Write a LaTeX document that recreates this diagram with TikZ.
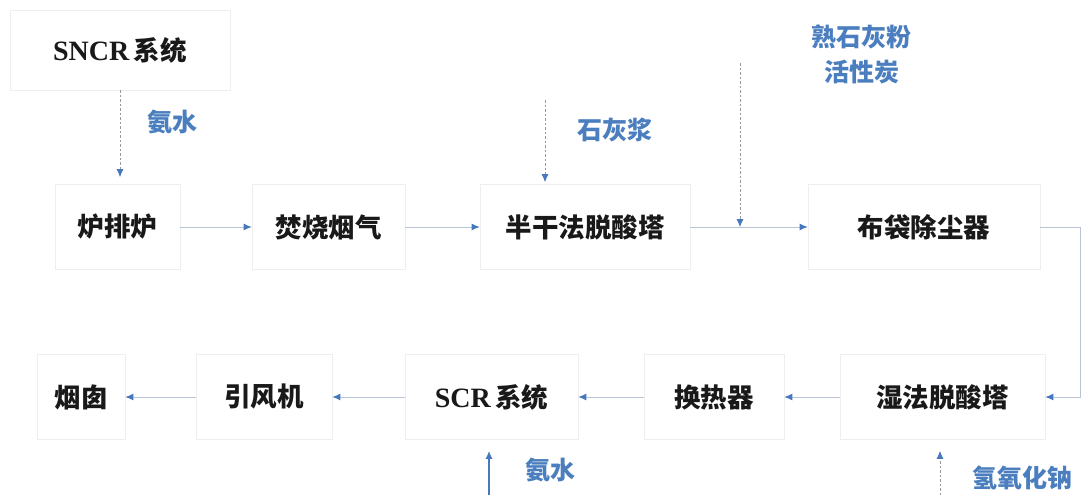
\documentclass[tikz,border=0pt]{standalone}
\usepackage{fontspec}
\setmainfont{Liberation Serif}
\newfontfamily\cjk{Noto Sans CJK SC}
\usetikzlibrary{arrows.meta}
\definecolor{lblblue}{RGB}{74,126,190}
\definecolor{arrblue}{RGB}{70,120,190}
\definecolor{linegray}{RGB}{185,196,214}
\definecolor{boxgray}{RGB}{238,238,238}
\begin{document}
\begin{tikzpicture}[x=1pt,y=-1pt,
  box/.style={draw=boxgray, line width=0.7pt, minimum height=85pt, inner sep=0pt,
    font=\cjk\bfseries\fontsize{26.5}{30}\selectfont, text=black!90},
  lbl/.style={text=lblblue, inner sep=0pt, font=\cjk\bfseries\fontsize{25}{28}\selectfont},
  flow/.style={draw=linegray, line width=0.9pt, -{Latex[length=8pt,width=7pt,color=arrblue]}},
  feed/.style={draw=black!40, line width=0.8pt, dash pattern=on 2.5pt off 2pt, -{Latex[length=8pt,width=7pt,color=arrblue]}},
  feedsolid/.style={draw=arrblue, line width=1.2pt, -{Latex[length=8pt,width=7pt,color=arrblue]}}
]
\fill[white] (0,0) rectangle (1083,495);
\useasboundingbox (0,0) rectangle (1083,495);

% top row
\node[box, minimum width=220pt, minimum height=80pt] (sncr) at (120,50) {{\rmfamily\bfseries\fontsize{28}{30}\selectfont SNCR}\,系统};
\node[box, minimum width=125pt] (lpl) at (117.5,227) {炉排炉};
\node[box, minimum width=153pt] (fs) at (328.5,227) {焚烧烟气};
\node[box, minimum width=210pt] (bg) at (585,227) {半干法脱酸塔};
\node[box, minimum width=232pt] (bd) at (924,227) {布袋除尘器};

% bottom row
\node[box, minimum width=88pt] (yc) at (81,397) {烟囱};
\node[box, minimum width=136pt] (yfj) at (264,397) {引风机};
\node[box, minimum width=173pt] (scr) at (491.5,397) {{\rmfamily\bfseries\fontsize{28}{30}\selectfont SCR}\,系统};
\node[box, minimum width=140pt] (hrq) at (714,397) {换热器};
\node[box, minimum width=205pt] (sf) at (942.5,397) {湿法脱酸塔};

% labels
\node[lbl] (l1) at (172,122) {氨水};
\node[lbl] (l2) at (615,130) {石灰浆};
\node[lbl] (l3) at (861,37) {熟石灰粉};
\node[lbl] (l4) at (862,72) {活性炭};
\node[lbl] (l5) at (550,470) {氨水};
\node[lbl] (l6) at (1022,478) {氢氧化钠};

% coordinates
\coordinate (rc) at (1080,0);
\coordinate (lime) at (545,100);
\coordinate (slime) at (740,63);
\coordinate (nh3) at (489,495);
\coordinate (naoh) at (940,495);

% main flow
\draw[flow] (lpl.east) -- (fs.west);
\draw[flow] (fs.east) -- (bg.west);
\draw[flow] (bg.east) -- (bd.west);
\draw[flow] (bd.east) -- (bd.east -| rc) |- (sf.east);
\draw[flow] (sf.west) -- (hrq.east);
\draw[flow] (hrq.west) -- (scr.east);
\draw[flow] (scr.west) -- (yfj.east);
\draw[flow] (yfj.west) -- (yc.east);

% feeds
\draw[feed, shorten >=7pt] (sncr.south) -- (sncr.south |- lpl.north);
\draw[feed, shorten >=2pt] (lime) -- (lime |- bg.north);
\draw[feed] (slime) -- (slime |- bg.east);
\draw[feedsolid, shorten >=11pt] (nh3) -- (nh3 |- scr.south);
\draw[feed, shorten >=11pt] (naoh) -- (naoh |- sf.south);
\end{tikzpicture}
\end{document}
